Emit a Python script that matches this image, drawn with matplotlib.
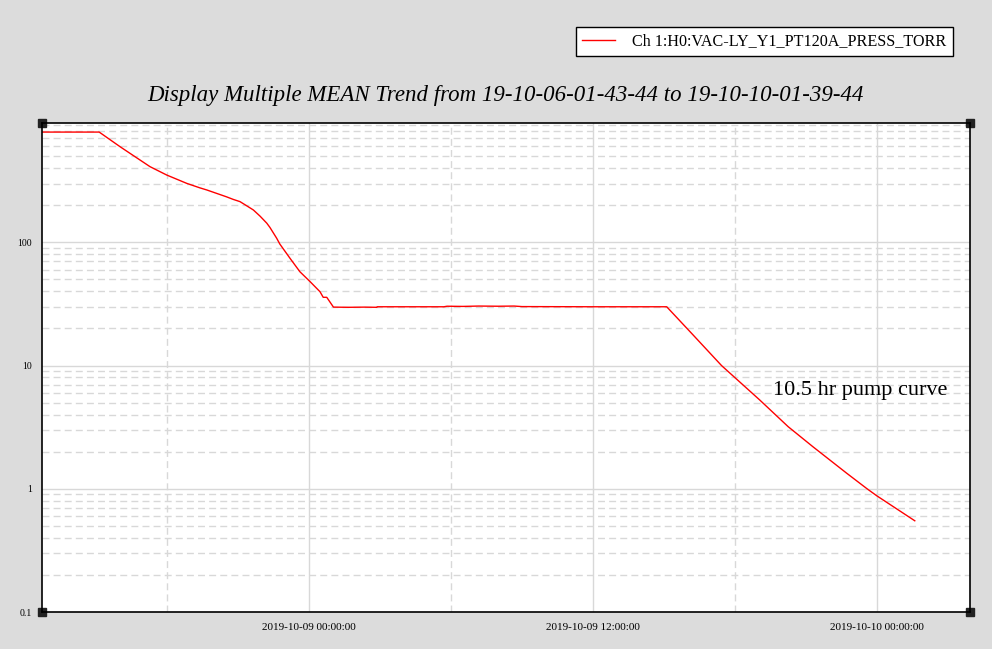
import pandas as pd
import matplotlib
matplotlib.use("Agg")
import matplotlib.pyplot as plt
import matplotlib.dates as mdates
from matplotlib.ticker import LogLocator, FixedFormatter, FixedLocator, NullFormatter

plt.rcParams['font.family'] = ['Liberation Serif', 'DejaVu Serif']

# pressure trend (Torr)
times = ["2019-10-08 12:43", "2019-10-08 15:08", "2019-10-08 16:01", "2019-10-08 16:35",
         "2019-10-08 17:17", "2019-10-08 17:59", "2019-10-08 18:50", "2019-10-08 19:23",
         "2019-10-08 19:41", "2019-10-08 20:31", "2019-10-08 20:48", "2019-10-08 21:05",
         "2019-10-08 21:22", "2019-10-08 21:39", "2019-10-08 21:56", "2019-10-08 22:13",
         "2019-10-08 22:21", "2019-10-08 22:38", "2019-10-08 22:46", "2019-10-08 23:12",
         "2019-10-08 23:37", "2019-10-09 00:03", "2019-10-09 00:28", "2019-10-09 00:36",
         "2019-10-09 00:45", "2019-10-09 01:02",
         "2019-10-09 01:40", "2019-10-09 02:20", "2019-10-09 02:52", "2019-10-09 02:53",
         "2019-10-09 05:42", "2019-10-09 05:50", "2019-10-09 06:30", "2019-10-09 07:10",
         "2019-10-09 08:00", "2019-10-09 08:40", "2019-10-09 09:00", "2019-10-09 12:00",
         "2019-10-09 15:07", "2019-10-09 16:14", "2019-10-09 17:26",
         "2019-10-09 19:03", "2019-10-09 20:15", "2019-10-09 21:18", "2019-10-09 22:43",
         "2019-10-09 23:35", "2019-10-09 23:59", "2019-10-10 01:36"]
pressure = [785, 785, 597, 505,
            411, 352, 301, 277,
            266, 234, 223, 214,
            198, 183, 163, 143,
            132, 108, 96.9, 74.1,
            57.7, 47.9, 39.7, 35.8,
            35.8, 29.8,
            29.7, 29.8, 29.7, 30.0,
            30.0, 30.3, 30.2, 30.4,
            30.3, 30.4, 30.1, 30.0,
            30.0, 17.7, 10.0,
            5.25, 3.19, 2.19, 1.34,
            1.0, 0.88, 0.55]

x_start = "2019-10-08 12:43"
x_end = "2019-10-10 03:56"
series_name = "Ch 1:H0:VAC-LY_Y1_PT120A_PRESS_TORR"
title = "Display Multiple MEAN Trend from 19-10-06-01-43-44 to 19-10-10-01-39-44"
note = "10.5 hr pump curve"

t = pd.to_datetime(times)

fig = plt.figure(figsize=(9.92, 6.49), dpi=100, facecolor='#dcdcdc')
ax = fig.add_axes([42/992, 1-612/649, (970-42)/992, (612-123)/649])
ax.set_facecolor('white')

line, = ax.plot(t, pressure, color='red', linewidth=1.0, label=series_name)

ax.set_yscale('log')
ax.set_ylim(0.1, 930)
ax.set_xlim(pd.Timestamp(x_start), pd.Timestamp(x_end))

ax.yaxis.set_major_locator(FixedLocator([0.1, 1, 10, 100]))
ax.yaxis.set_major_formatter(FixedFormatter(['0.1', '1', '10', '100']))
ax.yaxis.set_minor_locator(LogLocator(base=10, subs=range(2, 10), numticks=20))
ax.yaxis.set_minor_formatter(NullFormatter())

ax.xaxis.set_major_locator(mdates.HourLocator(byhour=[0, 12]))
ax.xaxis.set_major_formatter(mdates.DateFormatter('%Y-%m-%d %H:%M:%S'))
ax.xaxis.set_minor_locator(mdates.HourLocator(byhour=[6, 18]))

ax.tick_params(which='both', length=0)
ax.tick_params(axis='x', labelsize=8, pad=8)
ax.tick_params(axis='y', labelsize=7, pad=7)

ax.grid(which='major', color='#d8d8d8', linestyle='-', linewidth=1)
ax.grid(which='minor', color='#d8d8d8', linestyle=(0, (5, 3)), linewidth=1)
ax.set_axisbelow(True)
for s in ax.spines.values():
    s.set_color('black')
    s.set_linewidth(1.2)

# corner markers
for cx, cy in [(0, 0), (0, 1), (1, 0), (1, 1)]:
    ax.plot(cx, cy, marker='s', markersize=6, color='#222222',
            transform=ax.transAxes, clip_on=False)

ax.text((773-42)/(970-42), (612-390)/(612-123), note, fontsize=16,
        va='center', ha='left', transform=ax.transAxes)

fig.text(506/992, 1-95/649, title, fontsize=16.5, style='italic',
         ha='center', va='center')

leg = fig.legend(handles=[line], loc='upper right',
                 bbox_to_anchor=(953/992, 1-27/649), borderaxespad=0,
                 fancybox=False, framealpha=1, edgecolor='black',
                 fontsize=11.6, handlelength=2.0, handletextpad=1.1,
                 borderpad=0.4)
leg.get_frame().set_linewidth(1.0)

fig.savefig('out.png', dpi=100, facecolor=fig.get_facecolor())
